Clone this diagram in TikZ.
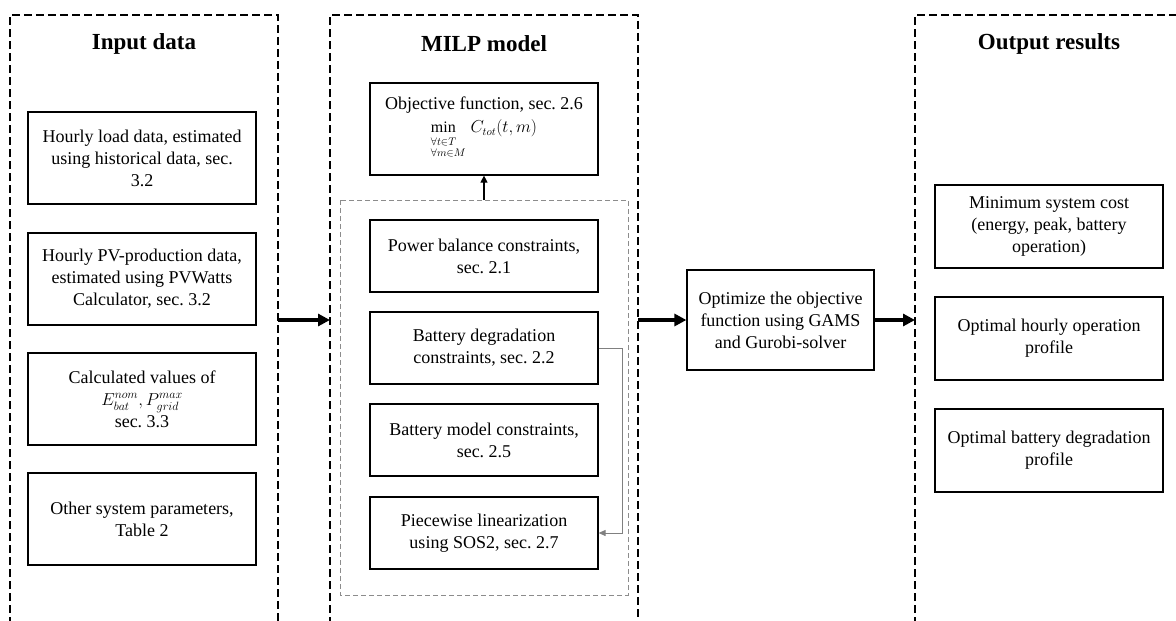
\documentclass[tikz,border=0pt]{standalone}
\usepackage{fontspec}
\setmainfont{Liberation Serif}
\usepackage{amsmath}
\usetikzlibrary{arrows.meta}
\frenchspacing
\begin{document}
\begin{tikzpicture}[x=1pt,y=-1pt,
  box/.style={draw, line width=1.2pt, align=center, inner sep=2pt,
    minimum width=228, font=\fontsize{18}{22}\selectfont},
  panel/.style={dash pattern=on 8pt off 4pt, line width=1.3pt},
  inner/.style={draw=black!45, dash pattern=on 5pt off 3pt, line width=1pt},
  title/.style={font=\fontsize{23}{27}\selectfont\bfseries},
  bigarrow/.style={line width=3.2pt, -{Triangle[length=12pt,width=12pt]}},
  thinarrow/.style={line width=1.2pt, -{Triangle[length=7pt,width=7pt]}},
  greyarrow/.style={draw=black!50, line width=1pt, -{Triangle[length=7pt,width=6pt]}}
]
\useasboundingbox (0,0) rectangle (1176,621);

% panels
\draw[panel] (10,625) -- (10,15) -- (278,15) -- (278,625);
\draw[panel] (330,625) -- (330,15) -- (638,15) -- (638,625);
\draw[panel] (915,625) -- (915,15) -- (1180,15);
\draw[inner] (340,200) rectangle (628,595);

\node[title] (tin) at (144,44) {Input data};
\node[title] (tmilp) at (484,44) {MILP model};
\node[title] (tout) at (1049,44) {Output results};

% input boxes
\node[box, minimum height=92] (in1) at (142,158) {Hourly load data, estimated\\using historical data, sec.\\3.2};
\node[box, minimum height=92] (in2) at (142,279) {Hourly PV-production data,\\estimated using PVWatts\\Calculator, sec. 3.2};
\node[box, minimum height=92] (in3) at (142,399) {Calculated values of\\$E_{bat}^{nom}, P_{grid}^{max}$\\sec. 3.3};
\node[box, minimum height=92] (in4) at (142,519) {Other system parameters,\\Table 2};

% MILP boxes
\node[box, minimum height=92] (obj) at (484,129) {Objective function, sec. 2.6\\[1pt]{\fontsize{16}{16}\selectfont$\begin{array}[t]{@{}l@{}}\mathrm{min}\\[-3pt] \scriptstyle\forall t\in T\\[-5pt] \scriptstyle\forall m\in M\end{array}\; C_{tot}(t,m)$}};
\node[box, minimum height=72] (pb) at (484,256) {Power balance constraints,\\sec. 2.1};
\node[box, minimum height=72] (deg) at (484,348) {Battery degradation\\constraints, sec. 2.2};
\node[box, minimum height=72] (bm) at (484,440) {Battery model constraints,\\sec. 2.5};
\node[box, minimum height=72] (pw) at (484,533) {Piecewise linearization\\using SOS2, sec. 2.7};

% optimize
\node[box, minimum width=187, minimum height=100] (opt) at (780.5,320) {Optimize the objective\\function using GAMS\\and Gurobi-solver};

% output boxes
\node[box, minimum height=83] (out1) at (1049,226.5) {Minimum system cost\\(energy, peak, battery\\operation)};
\node[box, minimum height=83] (out2) at (1049,338.5) {Optimal hourly operation\\profile};
\node[box, minimum height=83] (out3) at (1049,450.5) {Optimal battery degradation\\profile};

% connection points
\coordinate (inR) at (278,320);
\coordinate (milpL) at (330,320);
\coordinate (milpR) at (638,320);
\coordinate (outL) at (915,320);
\coordinate (innerTop) at (484,200);

\draw[bigarrow] (inR) -- (milpL);
\draw[bigarrow] (milpR) -- (opt.west);
\draw[bigarrow] (opt.east) -- (outL);
\draw[thinarrow] (innerTop) -- (obj.south);
\draw[greyarrow] (deg.east) -- ++(24,0) |- (pw.east);
\end{tikzpicture}
\end{document}
